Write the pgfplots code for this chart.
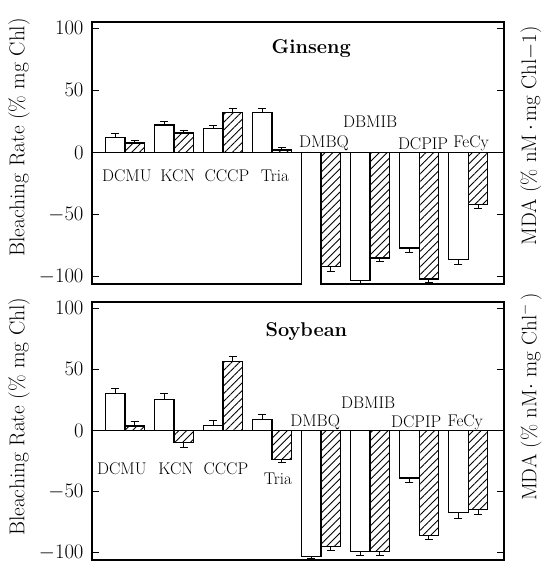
\documentclass[border=0pt]{standalone}
\usepackage{pgfplots}
\pgfplotsset{compat=1.18}
\usepackage{pgfplotstable}
\usetikzlibrary{patterns.meta}

% x: 0=DCMU 1=KCN 2=CCCP 3=Tria 4=DMBQ 5=DBMIB 6=DCPIP 7=FeCy
\pgfplotstableread{
x y ep em
0 12 3 0
1 22 3 0
2 19 2.5 0
3 32 3.5 0
4 -115 0 0
5 -103 0 3
6 -77 0 4
7 -86 0 4
}\ginW
\pgfplotstableread{
x y ep em
0 7.5 2 0
1 15.5 2 0
2 32 3.5 0
3 2 2 0
4 -92 0 4
5 -85 0 3
6 -102 0 3
7 -42 0 3.5
}\ginH
\pgfplotstableread{
x y ep em
0 30 4 0
1 25 5 0
2 4 4 0
3 9 4 0
4 -103 0 1.5
5 -99 0 3.5
6 -39 0 4
7 -67 0 5
}\soyW
\pgfplotstableread{
x y ep em
0 3.5 4 0
1 -10 0 3.6
2 56.5 4 0
3 -24 0 2.5
4 -95 0 3
5 -99 0 3
6 -86 0 3
7 -64.5 0 4
}\soyH

\pgfplotsset{
  panel/.style={
    scale only axis, width=412bp,
    xmin=-0.67, xmax=7.73, ymin=-106, ymax=105,
    xtick=\empty, ytick={-100,-50,0,50,100},
    ytick pos=both, yticklabel pos=left,
    major tick length=7bp, tick align=inside,
    axis line style={line width=1.3pt},
    major tick style={black, line width=1.2pt},
    yticklabel style={font=\fontsize{21}{24}\selectfont, xshift=-5bp},
  },
  ylab/.style={every axis y label/.style={at={(axis description cs:-0.177,#1)}, rotate=90, anchor=center,
      font=\fontsize{21.5}{24}\selectfont}},
  errs/.style={error bars/.cd, y dir=both, y explicit,
    error mark=|,
    error bar style={line width=1pt, black},
    error mark options={line width=1pt, mark size=4bp, black}},
  wbar/.style={ybar, bar width=0.4, bar shift=0pt, fill=white, draw=black, line width=1.3pt, errs},
  hbar/.style={ybar, bar width=0.4, bar shift=0pt, draw=black, line width=1.3pt,
    pattern={Lines[angle=45,distance=5.5pt,line width=0.9pt]}, errs},
}
\tikzset{
  cat/.style={font=\fontsize{17}{20}\selectfont},
  rlab/.style={font=\fontsize{21}{24}\selectfont, rotate=90, anchor=center},
}

\begin{document}
\begin{tikzpicture}
\useasboundingbox (0,0) rectangle (543bp,-563bp);

\begin{axis}[panel, ylab=0.56, height=262bp, at={(92bp,-22bp)}, anchor=north west,
  ylabel={Bleaching Rate (\% mg Chl)}]
\addplot[wbar] table[x expr=\thisrow{x}-0.2, y=y, y error plus=ep, y error minus=em] {\ginW};
\addplot[hbar] table[x expr=\thisrow{x}+0.2, y=y, y error plus=ep, y error minus=em] {\ginH};
\addplot[black, line width=1.3pt, forget plot] coordinates {(-1,0) (9,0)};
\node[font=\bfseries\fontsize{20}{24}\selectfont] at (axis cs:3.8,84) {Ginseng};
\node[cat] at (axis cs:0.04,-19) {DCMU};
\node[cat] at (axis cs:1.08,-19) {KCN};
\node[cat] at (axis cs:2.08,-19) {CCCP};
\node[cat] at (axis cs:3.06,-19) {Tria};
\node[cat] at (axis cs:4.06,7) {DMBQ};
\node[cat] at (axis cs:5.0,25) {DBMIB};
\node[cat] at (axis cs:6.08,7) {DCPIP};
\node[cat] at (axis cs:7.06,7) {FeCy};
\end{axis}

\begin{axis}[panel, ylab=0.555, height=258bp, at={(92bp,-302bp)}, anchor=north west,
  ylabel={Bleaching Rate (\% mg Chl)}]
\addplot[wbar] table[x expr=\thisrow{x}-0.2, y=y, y error plus=ep, y error minus=em] {\soyW};
\addplot[hbar] table[x expr=\thisrow{x}+0.2, y=y, y error plus=ep, y error minus=em] {\soyH};
\addplot[black, line width=1.3pt, forget plot] coordinates {(-1,0) (9,0)};
\node[font=\bfseries\fontsize{20}{24}\selectfont] at (axis cs:3.7,81) {Soybean};
\node[cat] at (axis cs:-0.06,-31) {DCMU};
\node[cat] at (axis cs:1.04,-31) {KCN};
\node[cat] at (axis cs:2.06,-31) {CCCP};
\node[cat] at (axis cs:3.12,-40) {Tria};
\node[cat] at (axis cs:3.88,7) {DMBQ};
\node[cat] at (axis cs:4.96,23) {DBMIB};
\node[cat] at (axis cs:5.94,7) {DCPIP};
\node[cat] at (axis cs:6.94,7) {FeCy};
\end{axis}

\node[rlab] at (531bp,-136bp) {MDA (\% nM$\,\cdot\,$mg Chl$-$1)};
\node[rlab] at (531bp,-397bp) {MDA (\% nM$\cdot$ mg Chl$^{-}$\,)};
\end{tikzpicture}
\end{document}
